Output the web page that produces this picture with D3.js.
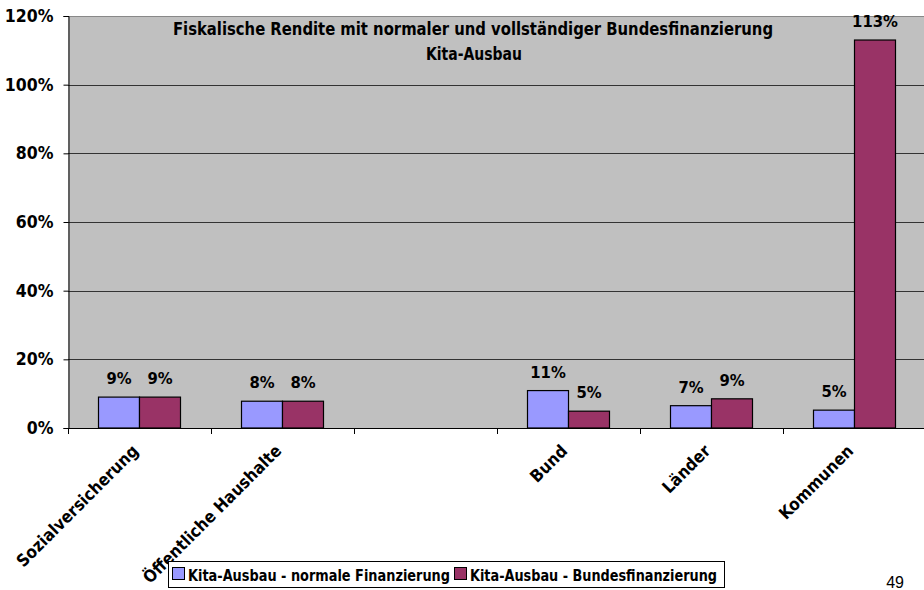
<!DOCTYPE html>
<html>
<head>
<meta charset="utf-8">
<script src="https://cdn.jsdelivr.net/npm/d3@7"></script>
<style>
  body { margin: 0; background: #fff; }
  svg { display: block; }
  text { font-family: "DejaVu Sans Condensed", "DejaVu Sans", sans-serif; font-weight: bold; fill: #000; }
</style>
</head>
<body>
<svg width="924" height="590"></svg>
<script>
// chart data
var categories = ["Sozialversicherung", "Öffentliche Haushalte", "", "Bund", "Länder", "Kommunen"];
var seriesNames = ["Kita-Ausbau - normale Finanzierung", "Kita-Ausbau - Bundesfinanzierung"];
var normalValues = [0.09, 0.078, null, 0.109, 0.065, 0.052];
var bundValues = [0.09, 0.078, null, 0.049, 0.085, 1.13];
var yTicks = [0, 0.2, 0.4, 0.6, 0.8, 1.0, 1.2];
var colors = ["#9999FF", "#993366"];

var svg = d3.select("svg");
var plot = { left: 68, top: 16, right: 926, bottom: 428 };

// the empty slot needs a unique key for the band scale
var keys = categories.map(function (c, i) { return i; });
var x0 = d3.scaleBand().domain(keys).range([plot.left, plot.right]);
var groupW = 82;
var x1 = d3.scaleBand().domain([0, 1]).range([0, groupW]);
var y = d3.scaleLinear().domain([0, 1.2]).range([plot.bottom, plot.top]);

// plot background
svg.append("rect")
    .attr("x", plot.left).attr("y", plot.top)
    .attr("width", plot.right - plot.left).attr("height", plot.bottom - plot.top)
    .attr("fill", "#C0C0C0");

svg.append("line")
    .attr("x1", plot.left).attr("x2", plot.right)
    .attr("y1", plot.top + 0.5).attr("y2", plot.top + 0.5)
    .attr("stroke", "#888");

// gridlines
svg.append("g").selectAll("line")
    .data(yTicks.filter(function (d) { return d > 0 && d < 1.2; }))
    .enter().append("line")
    .attr("x1", plot.left).attr("x2", plot.right)
    .attr("y1", function (d) { return Math.round(y(d)) + 0.5; })
    .attr("y2", function (d) { return Math.round(y(d)) + 0.5; })
    .attr("stroke", "#333").attr("stroke-width", 1);

// y axis
var yAxis = svg.append("g")
    .attr("transform", "translate(" + (plot.left + 0.5) + ",0)")
    .call(d3.axisLeft(y).tickValues(yTicks).tickFormat(d3.format(".0%")).tickSize(5).tickPadding(10));
yAxis.select(".domain").attr("stroke", "#000");
yAxis.selectAll(".tick line").attr("stroke", "#000");
yAxis.selectAll(".tick text")
    .style("font-family", "'DejaVu Sans Condensed', sans-serif")
    .style("font-weight", "bold").style("font-size", "17.5px");

// bars
var rows = keys.map(function (k) {
    return [normalValues[k], bundValues[k]];
});
var groups = svg.append("g").selectAll("g")
    .data(rows)
    .enter().append("g")
    .attr("transform", function (d, i) {
        return "translate(" + (x0(i) + (x0.bandwidth() - groupW) / 2) + ",0)";
    });

groups.selectAll("rect")
    .data(function (d) { return d.map(function (v, s) { return { v: v, s: s }; }).filter(function (e) { return e.v != null; }); })
    .enter().append("rect")
    .attr("x", function (d) { return x1(d.s); })
    .attr("y", function (d) { return y(d.v); })
    .attr("width", x1.bandwidth())
    .attr("height", function (d) { return plot.bottom - y(d.v); })
    .attr("fill", function (d) { return colors[d.s]; })
    .attr("stroke", "#000").attr("stroke-width", 1.2);

groups.selectAll("text.val")
    .data(function (d) { return d.map(function (v, s) { return { v: v, s: s }; }).filter(function (e) { return e.v != null; }); })
    .enter().append("text")
    .attr("class", "val")
    .attr("x", function (d) { return x1(d.s) + x1.bandwidth() / 2; })
    .attr("y", function (d) { return y(d.v) - 13; })
    .attr("text-anchor", "middle")
    .style("font-size", "16.5px")
    .text(function (d) { return Math.round(d.v * 100) + "%"; });

// x axis
svg.append("line")
    .attr("x1", plot.left).attr("x2", plot.right)
    .attr("y1", plot.bottom + 0.5).attr("y2", plot.bottom + 0.5)
    .attr("stroke", "#000");
svg.append("g").selectAll("line")
    .data(keys)
    .enter().append("line")
    .attr("x1", function (k) { return Math.round(x0(k)) + 0.5; })
    .attr("x2", function (k) { return Math.round(x0(k)) + 0.5; })
    .attr("y1", plot.bottom).attr("y2", plot.bottom + 6)
    .attr("stroke", "#000");

svg.append("g").selectAll("text")
    .data(keys)
    .enter().append("text")
    .attr("text-anchor", "end")
    .attr("transform", function (k) {
        return "translate(" + (x0(k) + x0.bandwidth() / 2) + "," + (plot.bottom + 24) + ") rotate(-45)";
    })
    .style("font-size", "17px")
    .text(function (k) { return categories[k]; });

// title
svg.append("text")
    .attr("x", 473).attr("y", 35)
    .attr("text-anchor", "middle")
    .attr("textLength", 600).attr("lengthAdjust", "spacingAndGlyphs")
    .style("font-size", "17.5px")
    .text("Fiskalische Rendite mit normaler und vollständiger Bundesfinanzierung");
svg.append("text")
    .attr("x", 474).attr("y", 60)
    .attr("text-anchor", "middle")
    .attr("textLength", 96).attr("lengthAdjust", "spacingAndGlyphs")
    .style("font-size", "17.5px")
    .text("Kita-Ausbau");

// legend
var legend = svg.append("g");
legend.append("rect")
    .attr("x", 168.5).attr("y", 561.5).attr("width", 556).attr("height", 26)
    .attr("fill", "#fff").attr("stroke", "#000");
var legendItems = [{ x: 172, w: 262, name: seriesNames[0] }, { x: 454, w: 247, name: seriesNames[1] }];
legendItems.forEach(function (item, i) {
    legend.append("rect")
        .attr("x", item.x + 0.5).attr("y", 567.5).attr("width", 12).attr("height", 12)
        .attr("fill", colors[i]).attr("stroke", "#000");
    legend.append("text")
        .attr("x", item.x + 16).attr("y", 580.5)
        .attr("textLength", item.w).attr("lengthAdjust", "spacingAndGlyphs")
        .style("font-size", "16.5px")
        .text(item.name);
});

// page number
svg.append("text")
    .attr("x", 904).attr("y", 588)
    .attr("text-anchor", "end")
    .style("font-family", "'Liberation Sans', Arial, sans-serif")
    .style("font-weight", "normal")
    .style("font-size", "16px")
    .text("49");
</script>
</body>
</html>
